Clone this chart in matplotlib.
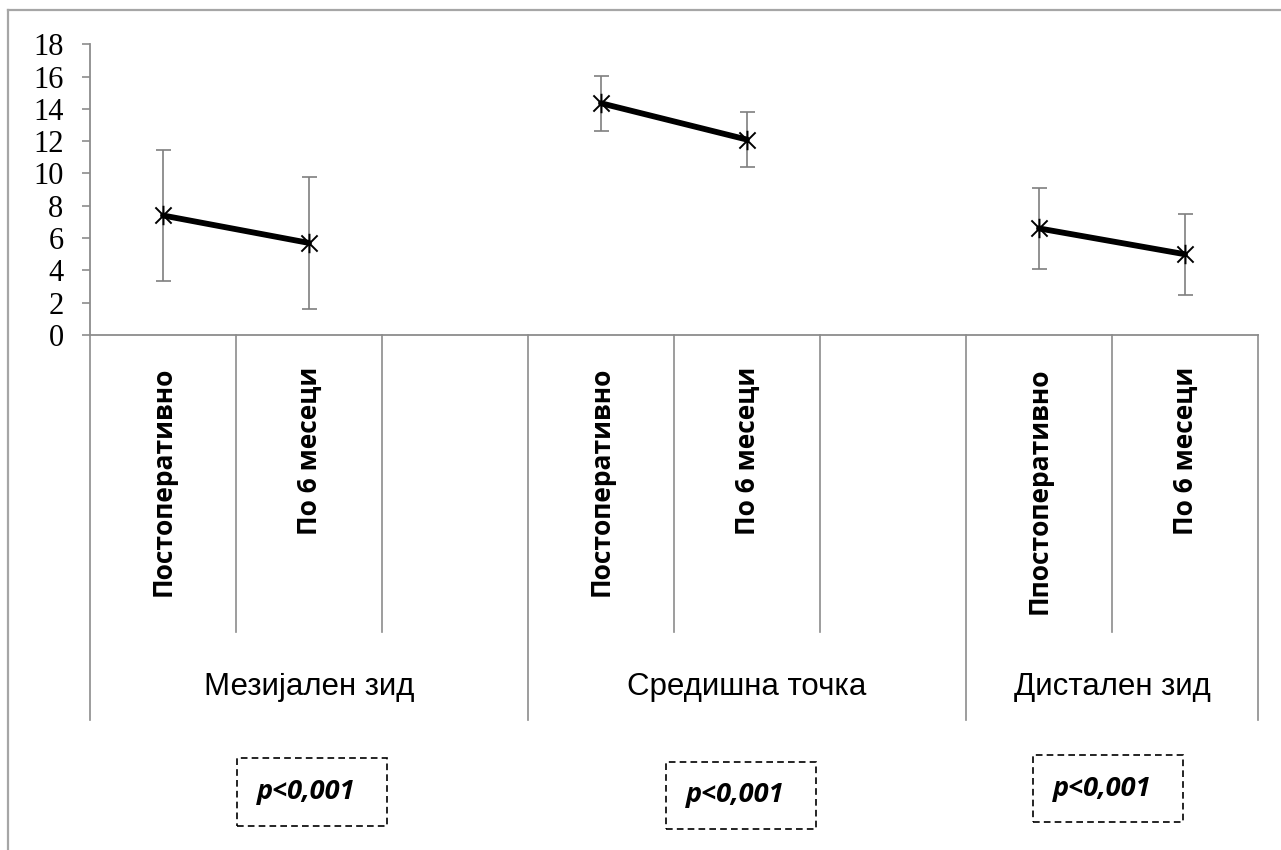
import numpy as np
import matplotlib
matplotlib.use("Agg")
import matplotlib.pyplot as plt
import matplotlib.transforms as mtransforms
from matplotlib.path import Path
from matplotlib.patches import Rectangle
from matplotlib.lines import Line2D

# --- data -------------------------------------------------------------
time_labels = ["Постоперативно", "По 6 месеци", "",
               "Постоперативно", "По 6 месеци", "",
               "Ппостоперативно", "По 6 месеци"]
group_labels = ["Мезијален зид", "Средишна точка", "Дистален зид"]
group_spans = [(0, 2), (3, 5), (6, 7)]          # first / last category index of each group
means = [7.4, 5.7, np.nan, 14.35, 12.1, np.nan, 6.6, 5.0]
sds = [4.05, 4.1, np.nan, 1.7, 1.7, np.nan, 2.5, 2.5]
p_values = ["p<0,001", "p<0,001", "p<0,001"]

W, H = 1281, 850
fig = plt.figure(figsize=(W / 100, H / 100), dpi=100)
fig.patch.set_facecolor("white")

def fx(px):
    return px / W

def fy(py):
    return 1 - py / H

ax_left, ax_right, ax_top, ax_bottom = 90, 1258, 44.3, 335
ax = fig.add_axes([fx(ax_left), fy(ax_bottom),
                   (ax_right - ax_left) / W, (ax_bottom - ax_top) / H])

x = np.arange(len(time_labels))
means_arr = np.array(means)
sds_arr = np.array(sds)

# error bars
ax.errorbar(x, means_arr, yerr=sds_arr, fmt="none", ecolor="#7f7f7f",
            elinewidth=1.2, capsize=5.4, capthick=1.2, zorder=2)
# mean line (breaks at empty categories)
ax.plot(x, means_arr, color="black", lw=4.2, solid_capstyle="round", zorder=3)
# star marker: an x crossed by a vertical stroke
star = Path([(-1, -1), (1, 1), (-1, 1), (1, -1), (0, -1.2), (0, 1.2)],
            [Path.MOVETO, Path.LINETO, Path.MOVETO, Path.LINETO, Path.MOVETO, Path.LINETO])
ax.plot(x, means_arr, linestyle="none", marker=star, markersize=14,
        markeredgewidth=1.4, color="black", zorder=4)

ax.set_xlim(-0.5, len(time_labels) - 0.5)
ax.set_ylim(0, 18)
ax.set_yticks(np.arange(0, 19, 2))
ax.set_xticks([])
for s in ("top", "right"):
    ax.spines[s].set_visible(False)
for s in ("left", "bottom"):
    ax.spines[s].set_color("#8c8c8c")
    ax.spines[s].set_linewidth(1.3)
ax.tick_params(axis="y", direction="out", length=6, width=1.2, color="#8c8c8c",
               pad=13, labelsize=22)
for lab in ax.get_yticklabels():
    lab.set_fontfamily(["Liberation Serif", "DejaVu Serif"])
ax.patch.set_alpha(0)

# category axis: divider lines below the plot
trans = mtransforms.blended_transform_factory(ax.transData, fig.transFigure)
group_edges = set()
for a, b in group_spans:
    group_edges.add(a - 0.5)
    group_edges.add(b + 0.5)
for edge in np.arange(-0.5, len(time_labels)):
    bottom = 720 if edge in group_edges else 632
    fig.add_artist(Line2D([edge, edge], [fy(ax_bottom), fy(bottom)],
                          transform=trans, color="#8c8c8c", lw=1.2))

# rotated time labels
for xi, lab in zip(x, time_labels):
    if lab:
        fig.text(xi, fy(367), lab, transform=trans,
                 rotation=90, ha="center", va="top", fontsize=19, fontweight="bold",
                 family=["Open Sans", "DejaVu Sans"])

# group labels, centred under their spans
for (a, b), lab in zip(group_spans, group_labels):
    fig.text((a + b) / 2, fy(695), lab,
             transform=trans, ha="center", va="baseline", fontsize=22.5,
             family=["Liberation Sans Narrow", "Liberation Sans"])

# significance boxes
boxes = [(237, 758, 387, 826), (666, 762, 816, 829), (1033, 755, 1183, 822)]
for (x0, y0, x1, y1), ptxt in zip(boxes, p_values):
    fig.add_artist(Rectangle((fx(x0), fy(y1)), fx(x1) - fx(x0), fy(y0) - fy(y1),
                             transform=fig.transFigure, fill=False, ec="black",
                             lw=1.2, ls=(0, (4, 2.5))))
    fig.text(fx((x0 + x1) / 2 - 6), fy((y0 + y1) / 2), ptxt, ha="center", va="center",
             fontsize=19.5, fontweight="bold", fontstyle="italic",
             family=["Open Sans", "DejaVu Sans"])

# outer frame (top and left edges)
fig.add_artist(Line2D([fx(8), 1], [fy(10), fy(10)], transform=fig.transFigure,
                      color="#a6a6a6", lw=1.6))
fig.add_artist(Line2D([fx(8), fx(8)], [fy(10), 0], transform=fig.transFigure,
                      color="#a6a6a6", lw=1.6))

fig.savefig("out.png", dpi=100)
